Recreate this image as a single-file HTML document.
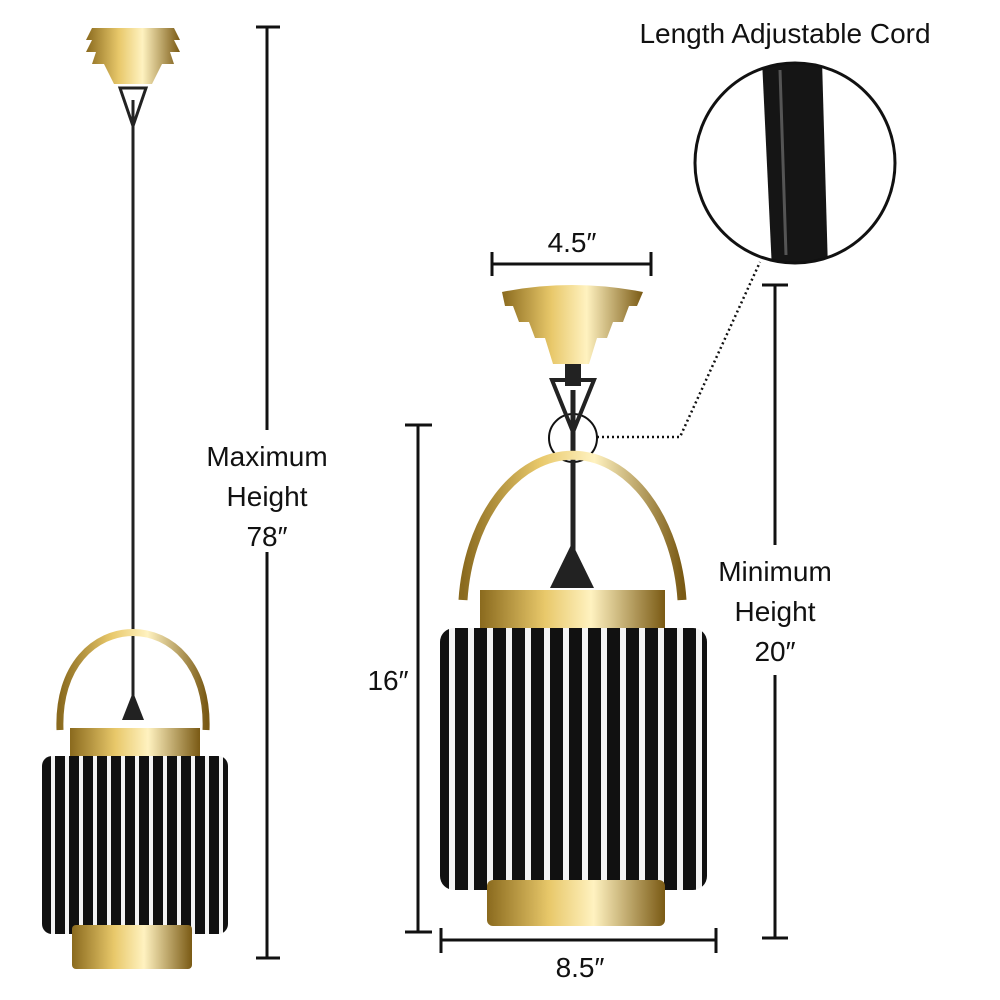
<!DOCTYPE html>
<html><head><meta charset="utf-8"><style>
html,body{margin:0;padding:0;background:#fff}
svg{display:block}
text{font-family:"Liberation Sans",sans-serif;font-size:28px;fill:#111;text-anchor:middle}
</style></head><body>
<svg width="1000" height="1000" viewBox="0 0 1000 1000" xmlns="http://www.w3.org/2000/svg">
<defs>
<linearGradient id="g" x1="0" x2="1" y1="0" y2="0">
<stop offset="0" stop-color="#8a6a1e"/><stop offset="0.35" stop-color="#e8c86a"/><stop offset="0.6" stop-color="#fff2c0"/><stop offset="1" stop-color="#7a5a14"/></linearGradient>
<pattern id="s1" width="14" height="10" patternUnits="userSpaceOnUse"><rect width="14" height="10" fill="#111"/><rect x="9" width="4" height="10" fill="#f4f4f4"/></pattern>
<pattern id="s2" width="19" height="10" patternUnits="userSpaceOnUse"><rect width="19" height="10" fill="#111"/><rect x="12" width="6" height="10" fill="#f4f4f4"/></pattern>
<clipPath id="cc"><circle cx="795" cy="163" r="99"/></clipPath>
</defs>
<!-- cord in circle -->
<g clip-path="url(#cc)">
<path d="M762 60 L822 60 L828 270 L772 270 Z" fill="#151515"/>
<path d="M780 70 L786 255" stroke="#555" stroke-width="3"/>
</g>
<g stroke="#111" stroke-width="3" fill="none">
<line x1="267" y1="27" x2="267" y2="430"/><line x1="267" y1="552" x2="267" y2="958"/>
<line x1="256" y1="27" x2="280" y2="27"/><line x1="256" y1="958" x2="280" y2="958"/>
<line x1="492" y1="264" x2="651" y2="264"/><line x1="492" y1="252" x2="492" y2="276"/><line x1="651" y1="252" x2="651" y2="276"/>
<line x1="418" y1="425" x2="418" y2="932"/><line x1="405" y1="425" x2="432" y2="425"/><line x1="405" y1="932" x2="432" y2="932"/>
<line x1="441" y1="940" x2="716" y2="940"/><line x1="441" y1="928" x2="441" y2="953"/><line x1="716" y1="928" x2="716" y2="953"/>
<line x1="775" y1="285" x2="775" y2="545"/><line x1="775" y1="675" x2="775" y2="938"/>
<line x1="762" y1="285" x2="788" y2="285"/><line x1="762" y1="938" x2="788" y2="938"/>
<circle cx="795" cy="163" r="100"/>
<circle cx="573" cy="438" r="24" stroke-width="2"/>
<polyline points="597,437 680,437 760,262" stroke-dasharray="2,3" stroke-width="2.5"/>
</g>

<!-- LEFT LAMP -->
<path d="M92 28 h82 l6 12 h-6 l6 12 h-10 l4 12 h-12 l-10 20 h-38 l-10 -20 h-12 l4 -12 h-10 l6 -12 h-6z" fill="url(#g)"/>
<path d="M120 88 l26 0 l-13 38z" fill="none" stroke="#222" stroke-width="3"/>
<line x1="133" y1="100" x2="133" y2="700" stroke="#222" stroke-width="3"/>
<path d="M60 730 C55 600 211 600 206 730" fill="none" stroke="url(#g)" stroke-width="7"/>
<path d="M122 720 l11 -28 l11 28z" fill="#222"/>
<rect x="70" y="728" width="130" height="28" fill="url(#g)"/>
<rect x="42" y="756" width="186" height="178" rx="10" fill="url(#s1)"/>
<rect x="72" y="925" width="120" height="44" rx="4" fill="url(#g)"/>

<!-- RIGHT LAMP -->
<path d="M502 292 Q572 278 643 292 l-6 14 h-8 l-6 16 h-10 l-6 16 h-10 l-8 26 h-36 l-8 -26 h-10 l-6 -16 h-10 l-6 -16 h-8z" fill="url(#g)"/>
<rect x="565" y="364" width="16" height="22" fill="#222"/>
<path d="M552 380 l42 0 l-21 52z" fill="none" stroke="#222" stroke-width="4"/>
<line x1="573" y1="390" x2="573" y2="560" stroke="#222" stroke-width="5"/>
<path d="M463 600 A110 160 0 0 1 682 600" fill="none" stroke="url(#g)" stroke-width="9"/>
<path d="M550 588 l22 -45 l22 45z" fill="#222"/>
<rect x="480" y="590" width="185" height="40" fill="url(#g)"/>
<rect x="440" y="628" width="267" height="262" rx="14" fill="url(#s2)"/>
<rect x="487" y="880" width="178" height="46" rx="6" fill="url(#g)"/>

<text x="267" y="466">Maximum</text>
<text x="267" y="506">Height</text>
<text x="267" y="546">78″</text>
<text x="572" y="252">4.5″</text>
<text x="388" y="690">16″</text>
<text x="580" y="977">8.5″</text>
<text x="775" y="581">Minimum</text>
<text x="775" y="621">Height</text>
<text x="775" y="661">20″</text>
<text x="785" y="43">Length Adjustable Cord</text>
</svg>
</body></html>
